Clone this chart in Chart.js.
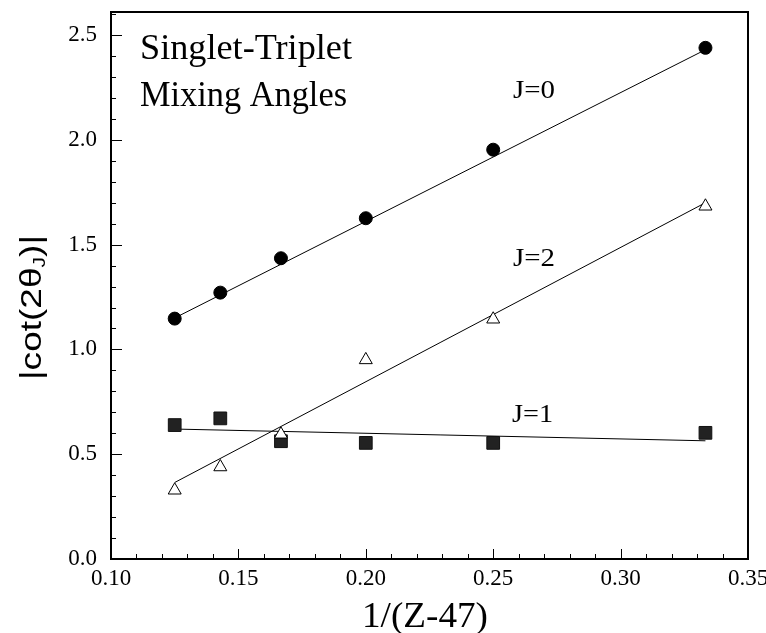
<!DOCTYPE html>
<html>
<head>
<meta charset="utf-8">
<script src="https://cdn.jsdelivr.net/npm/chart.js@4.4.0/dist/chart.umd.min.js"></script>
<style>
  html, body { margin: 0; padding: 0; background: #fff; }
  #wrap { width: 766px; height: 633px; }
</style>
</head>
<body>
<div id="wrap"><canvas id="grafico" width="766" height="633"></canvas></div>
<script>
// 1/(Z-47) for Z = 55 .. 50
const xVals = [0.125, 0.1429, 0.1667, 0.2, 0.25, 0.3333];
const j0Vals = [1.147, 1.271, 1.435, 1.626, 1.953, 2.439];
const j2Vals = [0.328, 0.439, 0.595, 0.950, 1.144, 1.683];
const j1Vals = [0.639, 0.671, 0.562, 0.554, 0.554, 0.602];

// straight fits (ends only)
const fitX = [0.125, 0.3333];
const fitJ0 = [1.15, 2.43];
const fitJ2 = [0.365, 1.70];
const fitJ1 = [0.62, 0.564];

const xTickLabels = ['0.10', '0.15', '0.20', '0.25', '0.30', '0.35'];
const yTickLabels = ['0.0', '0.5', '1.0', '1.5', '2.0', '2.5'];

const serif = '"Liberation Serif", "Times New Roman", serif';
const sans = '"Liberation Sans", Arial, sans-serif';

const pares = (xs, ys) => xs.map((x, i) => ({ x: x, y: ys[i] }));

// texto estirado a un ancho dado
function texto(ctx, str, x, y, font, ancho) {
    ctx.save();
    ctx.font = font;
    ctx.textAlign = 'left';
    ctx.textBaseline = 'alphabetic';
    const w = ctx.measureText(str).width;
    const sx = ancho ? ancho / w : 1;
    ctx.translate(x, y);
    ctx.scale(sx, 1);
    ctx.fillText(str, 0, 0);
    ctx.restore();
}

const marco = {
    id: 'marco',
    afterDraw(chart) {
        const ctx = chart.ctx;
        const a = chart.chartArea;
        const xs = chart.scales.x;
        const ys = chart.scales.y;
        ctx.save();
        ctx.strokeStyle = '#000';
        ctx.fillStyle = '#000';

        // ticks hacia dentro
        ctx.lineWidth = 1;
        ctx.beginPath();
        for (let k = 10; k <= 35; k++) {
            const px = Math.round(xs.getPixelForValue(k / 100)) + 0.5;
            const len = k % 5 === 0 ? 10 : 5;
            ctx.moveTo(px, a.bottom);
            ctx.lineTo(px, a.bottom - len);
        }
        for (let k = 0; k <= 26; k++) {
            const py = Math.round(ys.getPixelForValue(k / 10)) + 0.5;
            const len = k % 5 === 0 ? 11 : 5;
            ctx.moveTo(a.left, py);
            ctx.lineTo(a.left + len, py);
        }
        ctx.stroke();

        ctx.lineWidth = 2;
        ctx.strokeRect(a.left, a.top, a.right - a.left, a.bottom - a.top);

        // textos
        texto(ctx, 'Singlet-Triplet', 140, 59, '35px ' + serif, 212);
        texto(ctx, 'Mixing Angles', 140, 106, '35px ' + serif, 207);
        texto(ctx, 'J=0', 513, 98, '25px ' + serif, 42);
        texto(ctx, 'J=2', 513, 266, '25px ' + serif, 42);
        texto(ctx, 'J=1', 512, 422, '25px ' + serif, 41);
        texto(ctx, '1/(Z-47)', 362, 627, '36px ' + serif, 126);

        // titulo eje y con subindice
        ctx.translate(41, 380);
        ctx.rotate(-Math.PI / 2);
        const p1 = '|cot(2\u03b8';
        const p2 = ')|';
        ctx.font = '30px ' + sans;
        const w1 = ctx.measureText(p1).width;
        const w3 = ctx.measureText(p2).width;
        ctx.font = '17px ' + sans;
        const w2 = ctx.measureText('J').width;
        const sx = 145 / (w1 + w2 + w3);
        ctx.scale(sx, 1);
        ctx.textBaseline = 'alphabetic';
        ctx.textAlign = 'left';
        ctx.font = '30px ' + sans;
        ctx.fillText(p1, 0, 0);
        ctx.font = '17px ' + sans;
        ctx.fillText('J', w1, 4);
        ctx.font = '30px ' + sans;
        ctx.fillText(p2, w1 + w2, 0);
        ctx.restore();
    }
};

const lineaFit = (ys) => ({
    data: pares(fitX, ys),
    showLine: true,
    borderColor: '#000',
    borderWidth: 1,
    pointRadius: 0,
    fill: false
});

new Chart(document.getElementById('grafico'), {
    type: 'scatter',
    data: {
        datasets: [
            {
                label: 'J=0',
                data: pares(xVals, j0Vals),
                pointStyle: 'circle',
                pointRadius: 6.5,
                backgroundColor: '#000',
                borderColor: '#000',
                borderWidth: 1
            },
            {
                label: 'J=2',
                data: pares(xVals, j2Vals),
                pointStyle: 'triangle',
                pointRadius: 7.5,
                backgroundColor: '#fff',
                borderColor: '#000',
                borderWidth: 1
            },
            {
                label: 'J=1',
                data: pares(xVals, j1Vals),
                pointStyle: 'rect',
                pointRadius: 9,
                backgroundColor: '#222',
                borderColor: '#111',
                borderWidth: 1
            },
            lineaFit(fitJ0),
            lineaFit(fitJ2),
            lineaFit(fitJ1)
        ]
    },
    options: {
        responsive: false,
        animation: false,
        layout: { padding: 0 },
        plugins: {
            legend: { display: false },
            tooltip: { enabled: false }
        },
        scales: {
            x: {
                type: 'linear',
                min: 0.1,
                max: 0.35,
                grid: { display: false },
                border: { display: false },
                ticks: {
                    stepSize: 0.05,
                    includeBounds: false,
                    padding: -2,
                    color: '#000',
                    font: { family: serif, size: 23 },
                    maxRotation: 0,
                    callback: (v) => xTickLabels[Math.round((v - 0.1) / 0.05)]
                },
                afterFit(s) {
                    s.height = 74;
                    s.paddingLeft = 0;
                    s.paddingRight = 18;
                }
            },
            y: {
                type: 'linear',
                min: 0,
                max: 2.61,
                grid: { display: false },
                border: { display: false },
                ticks: {
                    stepSize: 0.5,
                    includeBounds: false,
                    padding: 6,
                    color: '#000',
                    font: { family: serif, size: 23 },
                    callback: (v) => yTickLabels[Math.round(v / 0.5)]
                },
                afterFit(s) {
                    s.width = 111;
                    s.paddingTop = 12;
                    s.paddingBottom = 0;
                }
            }
        }
    },
    plugins: [marco]
});
</script>
</body>
</html>
